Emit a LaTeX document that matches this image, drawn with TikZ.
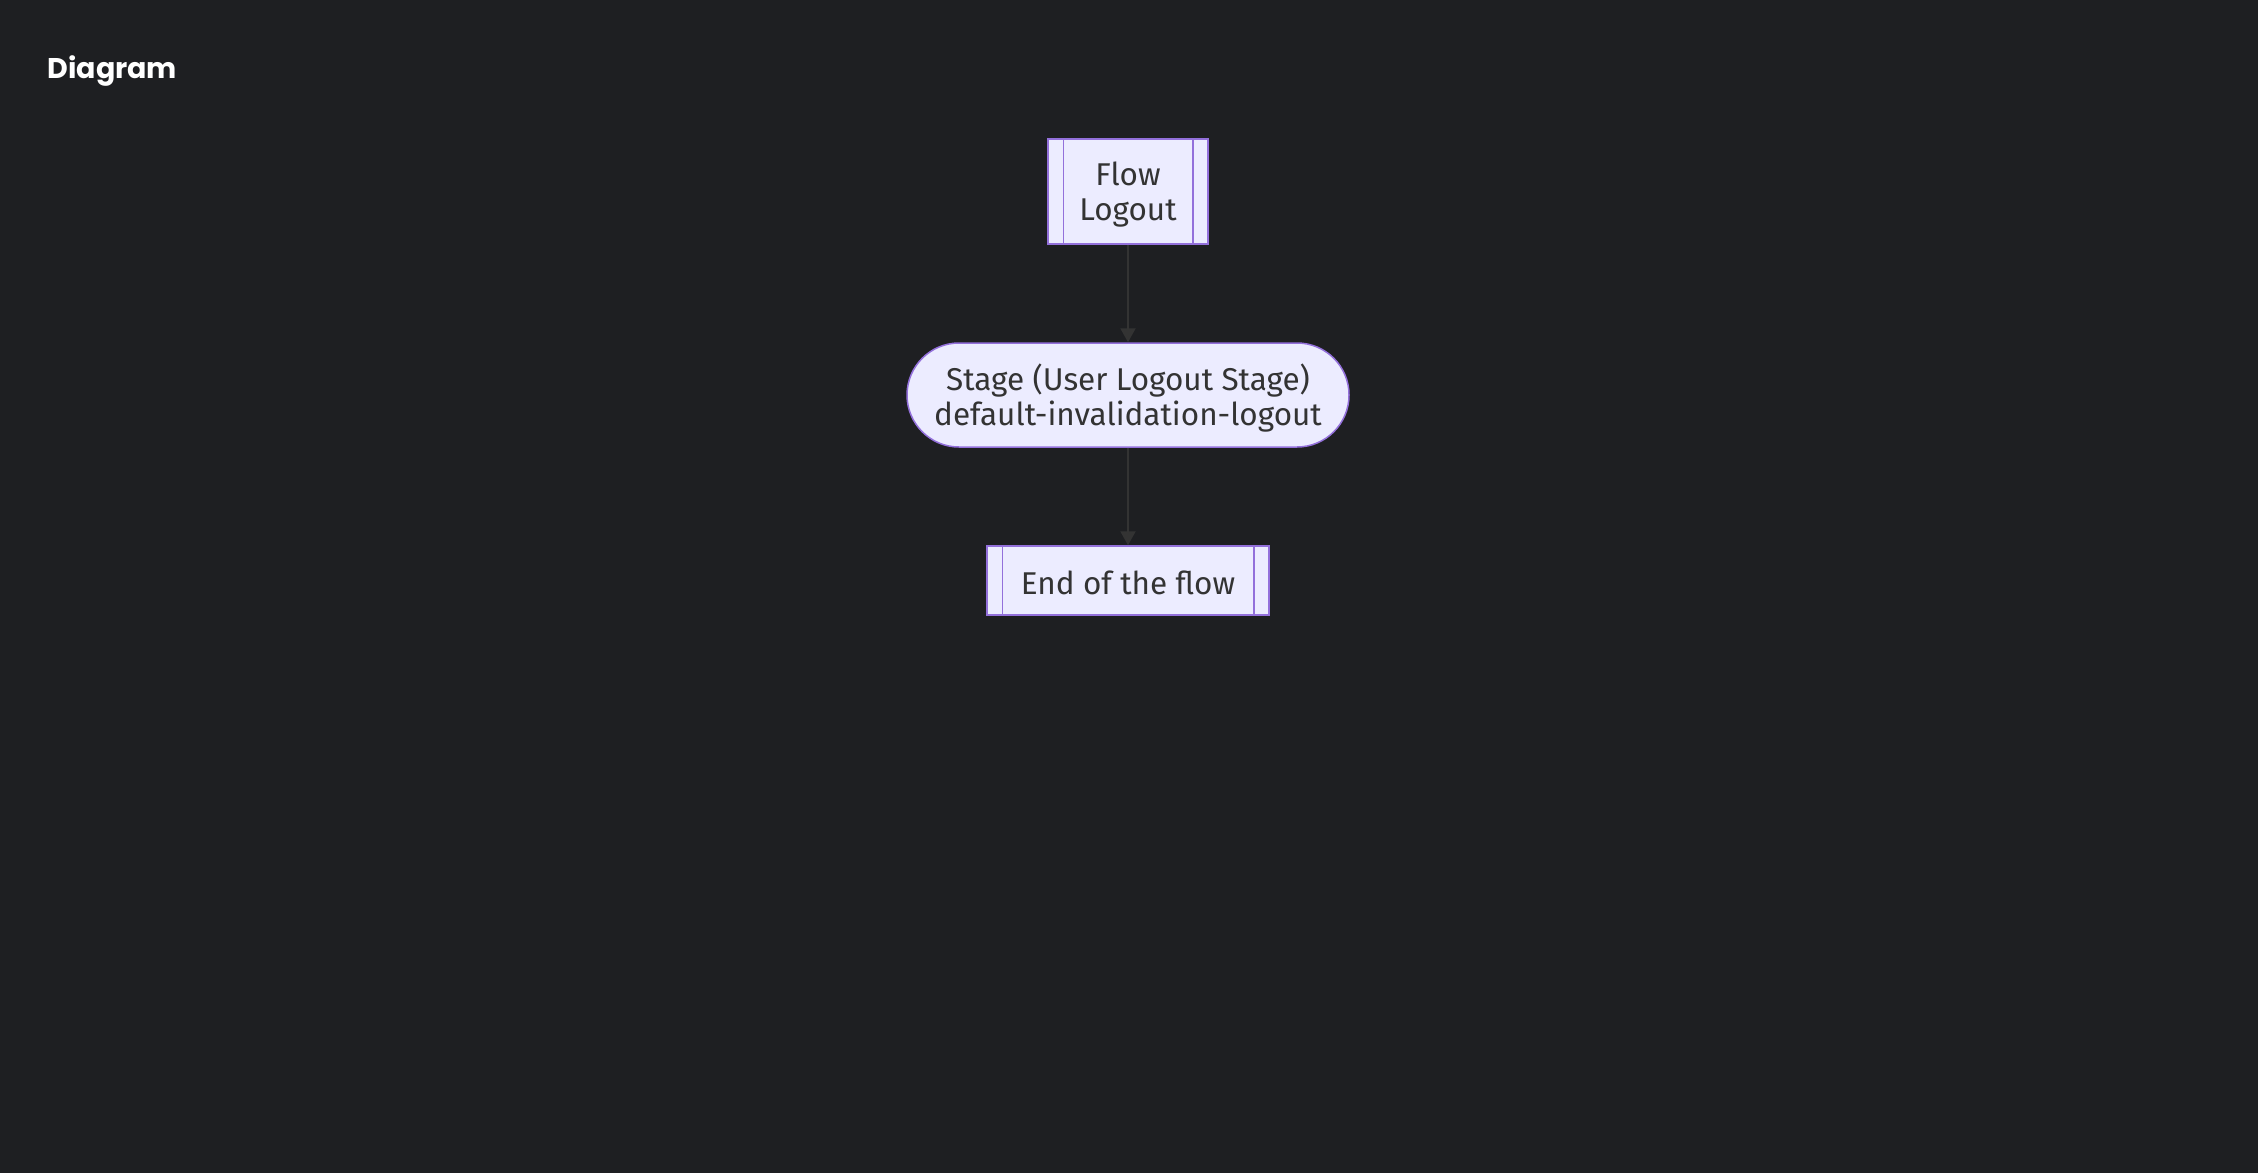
\documentclass[tikz,border=0pt]{standalone}
\usepackage{fontspec}
\setmainfont{Fira Sans}
\newfontfamily\titlefont{Poppins}
\usetikzlibrary{arrows.meta}
\definecolor{bgc}{HTML}{1E1F22}
\definecolor{nodefill}{HTML}{ECECFF}
\definecolor{nodeline}{HTML}{9370DB}
\definecolor{edgec}{HTML}{333333}
\definecolor{txt}{HTML}{333333}
\tikzset{
  base/.style={draw=nodeline, fill=nodefill, line width=1.5pt, inner sep=0pt},
  subr/.style={base, rectangle},
  stadium/.style={base, rectangle, rounded corners=52pt},
  lbl/.style={text=txt, align=center, inner sep=0pt, font=\fontsize{31.5}{35}\selectfont},
  inner/.style={draw=nodeline, line width=1.5pt},
  edge/.style={draw=edgec, line width=2pt, -{Triangle[length=14pt,width=15pt]}},
}
\begin{document}
\begin{tikzpicture}[x=1pt,y=-1pt]
\useasboundingbox (0,0) rectangle (2258,1172);
\fill[bgc] (-4,-4) rectangle (2262,1176);
\node[anchor=base west, text=white, font=\titlefont\bfseries\fontsize{28.5}{34}\selectfont] (title) at (44,78) {Diagram};
\node[subr, minimum width=160pt, minimum height=105pt] (flow) at (1128,191.5) {};
\node[stadium, minimum width=442pt, minimum height=104pt] (stage) at (1128,395) {};
\node[subr, minimum width=282pt, minimum height=69pt] (end) at (1128,580.5) {};
\node[lbl] (flowtxt) at ([yshift=-3pt]flow.center) {Flow\\Logout};
\node[lbl] (stagetxt) at ([yshift=-3pt]stage.center) {Stage (User Logout Stage)\\default-invalidation-logout};
\node[lbl] (endtxt) at ([yshift=-2pt]end.center) {End of the flow};
\foreach \n in {flow,end}{
  \draw[inner] ([xshift=16pt]\n.north west) -- ([xshift=16pt]\n.south west);
  \draw[inner] ([xshift=-16pt]\n.north east) -- ([xshift=-16pt]\n.south east);
}
\draw[edge] (flow) -- (stage);
\draw[edge] (stage) -- (end);
\end{tikzpicture}
\end{document}
